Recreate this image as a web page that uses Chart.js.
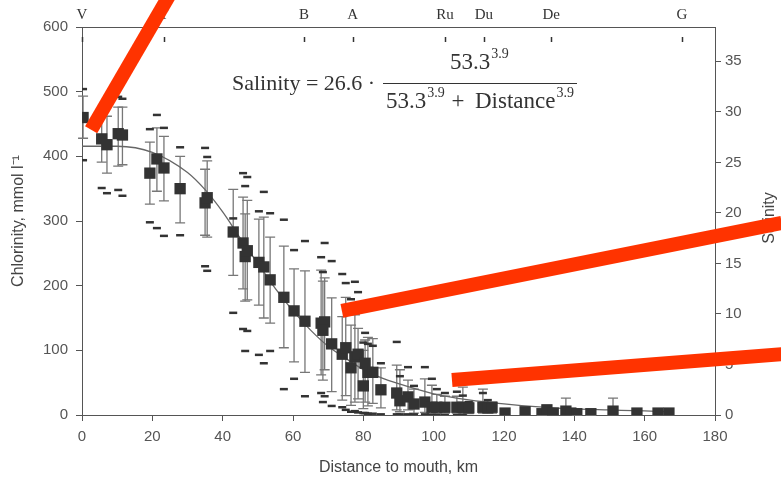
<!DOCTYPE html>
<html>
<head>
<meta charset="utf-8">
<script src="https://cdn.jsdelivr.net/npm/chart.js@4.4.1/dist/chart.umd.min.js"></script>
<style>
  html, body { margin: 0; padding: 0; background: #fff; }
  #wrap { width: 781px; height: 483px; }
</style>
</head>
<body>
<div id="wrap"><canvas id="chart"></canvas></div>
<script>
// --- データ ---
// 各地点: 河口からの距離 km / 塩素量 平均 / 誤差棒 下端・上端 / 最小・最大
const distanceKm = [0.3, 5.6, 7.1, 10.3, 11.5, 19.3, 21.3, 23.3, 27.9, 35.0, 35.6, 43.0, 45.8, 46.4, 47.0,
  50.3, 51.7, 53.5, 57.4, 60.3, 63.4, 68.0, 69.0, 68.5, 71.0, 74.0, 75.0, 76.5, 77.6, 78.5, 80.0, 80.5,
  81.3, 82.7, 85.0, 89.5, 90.4, 92.7, 94.4, 97.5, 99.5, 100.9, 103.2, 106.6, 108.3, 110.0, 114.0, 115.4,
  116.6, 120.3, 126.0, 130.8, 132.2, 134.0, 137.6, 139.0, 140.7, 144.7, 151.0, 157.8, 163.8, 166.9];
const chlorinity = [460, 427, 418, 435, 433, 374, 396, 382, 350, 328, 336, 283, 266, 245, 254,
  236, 229, 209, 182, 161, 145, 142, 144, 131, 110, 94, 104, 73, 90, 94, 45, 80,
  66, 66, 39, 34, 22, 28, 17, 20, 12, 12, 12, 12, 12, 11, 12, 11,
  12, 3, 5, 2, 8, 3, 6, 3, 2, 2, 6, 3, 3, 3];
const errLow = [428, 391, 374, 385, 387, 326, 346, 331, 297, 278, 275, 216, 195, 176, 178,
  170, 150, 142, 104, 82, 66, 62, 70, 54, 36, 23, 30, 15, 20, 25, 10, 20,
  14, 18, 11, 8, 5, 8, 3, 4, 2, 2, 3, 3, 2, 2, 3, 3,
  3, 1, 1, 0, 2, 1, 1, 1, 0, 0, 1, 1, 1, 1];
const errHigh = [493, 466, 462, 476, 476, 422, 444, 431, 400, 380, 393, 349, 337, 311, 332,
  303, 306, 275, 261, 226, 223, 224, 212, 207, 181, 152, 182, 139, 155, 134, 100, 116,
  120, 118, 73, 77, 70, 54, 40, 56, 46, 32, 29, 29, 43, 20, 40, 18,
  20, 6, 9, 5, 15, 6, 26, 6, 5, 5, 26, 5, 5, 5];
const chlMin = [394, 351, 343, 348, 339, 298, 289, 277, 278, 230, 223, 158, 133, 99, 130,
  93, 80, 99, 40, 56, 29, 34, 29, 20, 14, 12, 8, 5, 6, 4, 3, 3,
  2, 2, 1, 1, 1, 1, 1, 1, 0, 0, 0, 0, 0, null, null, null,
  null, null, null, null, null, null, null, null, null, null, null, null, null, null];
const chlMax = [504, null, null, 492, 489, 442, 464, 444, 414, 413, 399, 304, 374, 354, 368,
  315, 345, 312, 302, 255, 269, 244, 266, 221, 238, 218, 204, 179, 206, 190, 112, 127,
  110, 107, 80, 113, 60, 74, 45, 74, 56, 40, 34, 36, 30, 20, 34, 23,
  null, null, null, null, null, null, null, null, null, null, null, null, null, null];

// 近似曲線 (右軸 塩分) — 曲線から読み取り
const fitKm = [0, 10, 20, 30, 35, 40, 45, 50, 55, 60, 65, 70, 75, 80, 85, 90, 100, 110, 120, 130, 140, 150, 160, 168];
const fitSalinity = [26.6, 26.6, 26.0, 24.0, 22.3, 20.1, 17.5, 15.0, 12.5, 10.3, 8.4, 6.8, 5.6, 4.5, 3.7, 3.1,
  2.1, 1.5, 1.1, 0.8, 0.6, 0.5, 0.4, 0.3];

// 上部の地点名
const stations = ['V', 'T', 'B', 'A', 'Ru', 'Du', 'De', 'G'];
const stationKm = [0, 23.3, 63.1, 77.0, 103.2, 114.3, 133.4, 170.6];

// 軸目盛
const xTicks = [0, 20, 40, 60, 80, 100, 120, 140, 160, 180];
const chlTicks = [0, 100, 200, 300, 400, 500, 600];
const salTicks = [0, 5, 10, 15, 20, 25, 30, 35];

// 赤い線 (データ座標: km, 塩素量)
const redLines = [
  [[2.6, 441], [26, 660]],
  [[73.9, 161], [199, 297]],
  [[105.2, 54], [199, 94]]
];

const SANS = '"Liberation Sans", Arial, sans-serif';
const SERIF = '"Liberation Serif", "Times New Roman", serif';

const pts = (ys) => distanceKm.map((x, i) => ({ x, y: ys[i] })).filter(p => p.y !== null);

// ---------------------------------
// 誤差棒
// ---------------------------------
const errorBars = {
  id: 'errorBars',
  beforeDatasetsDraw(chart) {
    const { ctx, scales: { x, y } } = chart;
    ctx.save();
    ctx.strokeStyle = '#777';
    ctx.lineWidth = 1.3;
    distanceKm.forEach((km, i) => {
      const px = x.getPixelForValue(km);
      const lo = y.getPixelForValue(errLow[i]);
      const hi = y.getPixelForValue(errHigh[i]);
      ctx.beginPath();
      ctx.moveTo(px, lo); ctx.lineTo(px, hi);
      ctx.moveTo(px - 5, lo); ctx.lineTo(px + 5, lo);
      ctx.moveTo(px - 5, hi); ctx.lineTo(px + 5, hi);
      ctx.stroke();
    });
    ctx.restore();
  }
};

// 文字 + 上付き
function drawPow(ctx, base, exp, x, y) {
  ctx.font = '23px ' + SERIF;
  ctx.fillText(base, x, y);
  const w = ctx.measureText(base).width;
  ctx.font = '14px ' + SERIF;
  ctx.fillText(exp, x + w + 1, y - 11);
  return w + 1 + ctx.measureText(exp).width;
}

// ---------------------------------
// 式・地点目盛・右軸タイトル・赤線
// ---------------------------------
const notes = {
  id: 'notes',
  afterDraw(chart) {
    const { ctx, scales: { x, y, x2 } } = chart;
    ctx.save();
    ctx.strokeStyle = '#333';
    ctx.lineWidth = 1.5;
    stationKm.forEach(km => {
      const px = Math.round(x2.getPixelForValue(km)) + 0.5;
      ctx.beginPath(); ctx.moveTo(px, 37); ctx.lineTo(px, 42); ctx.stroke();
    });

    ctx.fillStyle = '#333';
    ctx.textBaseline = 'alphabetic';
    ctx.font = '22px ' + SERIF;
    ctx.fillText('Salinity = 26.6 \u00b7', 232, 90);
    drawPow(ctx, '53.3', '3.9', 450, 69);
    drawPow(ctx, '53.3', '3.9', 386, 108);
    ctx.font = '23px ' + SERIF;
    ctx.textAlign = 'center';
    ctx.fillText('+', 458, 108);
    ctx.textAlign = 'left';
    const end = 475 + drawPow(ctx, 'Distance', '3.9', 475, 108);
    ctx.lineWidth = 1;
    ctx.beginPath(); ctx.moveTo(383, 83.5); ctx.lineTo(Math.max(end, 577), 83.5); ctx.stroke();

    ctx.translate(770, 218);
    ctx.rotate(-Math.PI / 2);
    ctx.textAlign = 'center';
    ctx.textBaseline = 'middle';
    ctx.fillStyle = '#444';
    ctx.font = '16px ' + SANS;
    ctx.fillText('Salinity', 0, 0);
    ctx.restore();

    ctx.save();
    ctx.strokeStyle = '#ff3300';
    ctx.lineWidth = 14;
    ctx.lineCap = 'butt';
    redLines.forEach(([a, b]) => {
      ctx.beginPath();
      ctx.moveTo(x.getPixelForValue(a[0]), y.getPixelForValue(a[1]));
      ctx.lineTo(x.getPixelForValue(b[0]), y.getPixelForValue(b[1]));
      ctx.stroke();
    });
    ctx.restore();
  }
};

const tickFont = { family: SANS, size: 15 };
const axisColor = '#555';

new Chart(document.getElementById('chart'), {
  type: 'scatter',
  data: {
    datasets: [
      {
        label: 'Chlorinity',
        data: pts(chlorinity),
        pointStyle: 'rect',
        pointRadius: 8,
        backgroundColor: '#333',
        borderWidth: 0,
        order: 1
      },
      {
        label: 'max',
        data: pts(chlMax),
        pointStyle: 'line',
        pointRadius: 4,
        borderColor: '#333',
        borderWidth: 2.5,
        order: 2
      },
      {
        label: 'min',
        data: pts(chlMin),
        pointStyle: 'line',
        pointRadius: 4,
        borderColor: '#333',
        borderWidth: 2.5,
        order: 2
      },
      {
        label: 'fit',
        data: fitKm.map((x, i) => ({ x, y: fitSalinity[i] })),
        yAxisID: 'y2',
        showLine: true,
        pointRadius: 0,
        borderColor: '#666',
        borderWidth: 1.3,
        cubicInterpolationMode: 'monotone',
        order: 3
      }
    ]
  },
  options: {
    responsive: true,
    maintainAspectRatio: false,
    animation: false,
    layout: { padding: 0 },
    plugins: { legend: { display: false }, tooltip: { enabled: false } },
    scales: {
      x: {
        type: 'linear', position: 'bottom', min: 0, max: 180,
        afterBuildTicks: s => { s.ticks = xTicks.map(value => ({ value })); },
        afterFit: s => { s.height = 68; },
        ticks: { color: axisColor, font: tickFont, padding: 7 },
        grid: { drawOnChartArea: false, tickLength: 6, color: axisColor },
        border: { color: axisColor },
        title: { display: true, text: 'Distance to mouth, km', color: '#444',
          font: { family: SANS, size: 16 }, padding: { top: 0, bottom: 6 } }
      },
      x2: {
        type: 'linear', position: 'top', min: 0, max: 180,
        afterBuildTicks: s => { s.ticks = stationKm.map(value => ({ value })); },
        afterFit: s => { s.height = 27; },
        ticks: { color: '#333', font: { family: SERIF, size: 15 }, padding: 3,
          autoSkip: false, maxRotation: 0,
          callback: (v, i) => stations[i] },
        grid: { display: false, drawTicks: false },
        border: { color: axisColor }
      },
      y: {
        type: 'linear', position: 'left', min: 0, max: 600,
        afterBuildTicks: s => { s.ticks = chlTicks.map(value => ({ value })); },
        afterFit: s => { s.width = 82; },
        ticks: { color: axisColor, font: tickFont, padding: 8 },
        grid: { drawOnChartArea: false, tickLength: 6, color: axisColor },
        border: { color: axisColor },
        title: { display: true, text: 'Chlorinity, mmol l\u207b\u00b9', color: '#444',
          font: { family: SANS, size: 16 }, padding: { top: 9, bottom: 0 } }
      },
      y2: {
        type: 'linear', position: 'right', min: 0, max: 38.4,
        afterBuildTicks: s => { s.ticks = salTicks.map(value => ({ value })); },
        afterFit: s => { s.width = 66; },
        ticks: { color: axisColor, font: tickFont, padding: 4 },
        grid: { drawOnChartArea: false, tickLength: 6, color: axisColor },
        border: { color: axisColor }
      }
    }
  },
  plugins: [errorBars, notes]
});
</script>
</body>
</html>
